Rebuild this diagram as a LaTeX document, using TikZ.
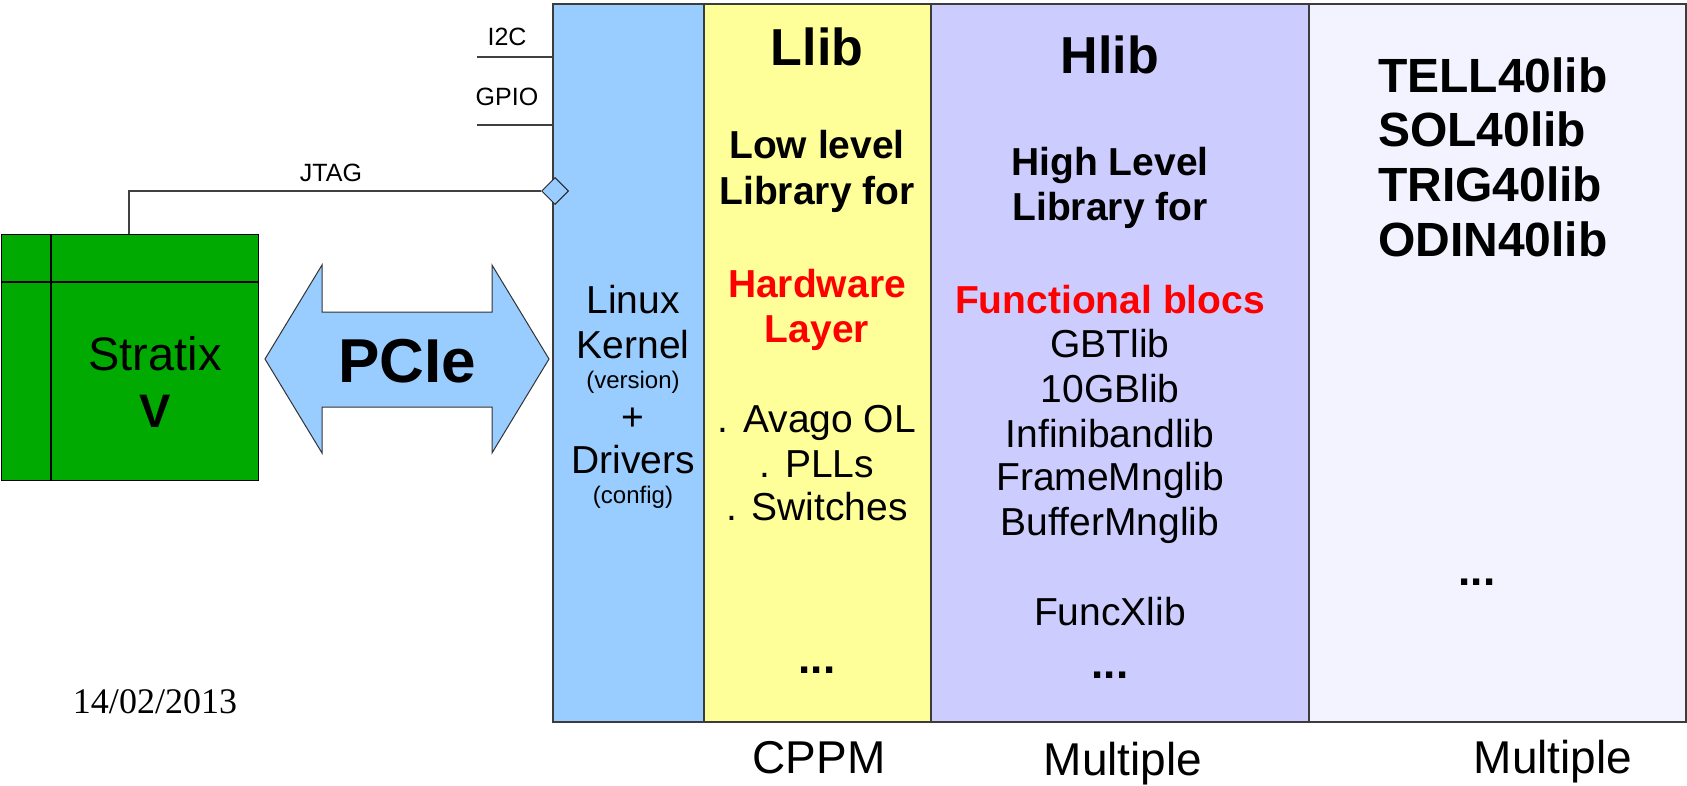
\documentclass[tikz,border=0pt]{standalone}
\usepackage{fontspec}
\setmainfont{Liberation Sans}
\newfontfamily\datefont{Liberation Serif}
\usetikzlibrary{shapes.geometric}
\definecolor{cblue}{HTML}{99CCFF}
\definecolor{cyellow}{HTML}{FFFF99}
\definecolor{cpurple}{HTML}{CCCCFF}
\definecolor{clight}{HTML}{F3F3FF}
\definecolor{cgreen}{HTML}{00AA00}
\definecolor{cborder}{HTML}{3C3C3C}
\definecolor{cred}{HTML}{FF0000}
\newcommand\myfs[1]{\fontsize{#1}{#1}\selectfont}
\begin{document}
\begin{tikzpicture}[x=1pt,y=-1pt,
  col/.style={draw=cborder, line width=1.3pt, inner sep=0pt, outer sep=0pt, anchor=north west, minimum height=718pt},
  txt/.style={inner sep=0pt, outer sep=0pt, anchor=base},
  sig/.style={draw=black!75, line width=1.2pt},
  lt/.style={txt, font=\myfs{39}},
  bt/.style={txt, font=\myfs{39}\bfseries},
  dt/.style={txt, font=\myfs{44}\bfseries},
]
\useasboundingbox (0,0) rectangle (1687,785);

% columns
\node[col, fill=cblue, minimum width=151pt] (blue) at (553,4) {};
\node[col, fill=cyellow, minimum width=227pt] (yellow) at (704,4) {};
\node[col, fill=cpurple, minimum width=378pt] (purple) at (931,4) {};
\node[col, fill=clight, minimum width=377pt] (light) at (1309,4) {};

% Stratix box
\node[draw=black, line width=1.2pt, fill=cgreen, anchor=north west, minimum width=257pt, minimum height=246pt, inner sep=0pt] (stratix) at (1,234) {};
\draw[line width=1.2pt] ([xshift=50pt]stratix.north west) -- ([xshift=50pt]stratix.south west);
\draw[line width=1.2pt] ([yshift=-48pt]stratix.north west) -- ([yshift=-48pt]stratix.north east);
\node[txt] (strT) at (155,370) {\myfs{47}Stratix};
\node[txt] (strV) at (155,427) {\myfs{47}\bfseries V};

% PCIe arrow
\draw[fill=cblue, draw=black!80, line width=1pt] (265,359) -- (322,265) -- (322,312) -- (492,312) -- (492,265) -- (549,359) -- (492,453) -- (492,407) -- (322,407) -- (322,453) -- cycle;
\node[txt] (pcie) at (407,382) {\myfs{62}\bfseries PCIe};

% signal lines
\coordinate (i2cL) at (477,57);
\coordinate (gpioL) at (477,125);
\draw[sig] (i2cL) -- (i2cL -| blue.west);
\draw[sig] (gpioL) -- (gpioL -| blue.west);
\node[txt] (i2c) at (507,45) {\myfs{25}I2C};
\node[txt] (gpio) at (507,105) {\myfs{25}GPIO};
\node[txt] (jtag) at (331,181) {\myfs{25}JTAG};
\node[diamond, draw=black!85, fill=cblue, minimum width=27pt, minimum height=27pt, inner sep=0pt, line width=1pt] (jtagD) at (555,191) {};
\draw[sig] ([xshift=128pt]stratix.north west) |- (jtagD.west);

% blue column text
\node[lt] (linux) at (633,313) {Linux};
\node[lt] (kernel) at (633,358) {Kernel};
\node[txt] (version) at (633,388) {\myfs{24}(version)};
\node[lt] (plus) at (633,430) {+};
\node[lt] (drivers) at (633,473) {Drivers};
\node[txt] (config) at (633,503) {\myfs{24}(config)};

% yellow column text
\node[txt] (llib) at (817,65) {\myfs{52}\bfseries Llib};
\node[bt] (low) at (817,158) {Low level};
\node[bt] (libfor1) at (817,204) {Library for};
\node[bt, text=cred] (hw) at (817,297) {Hardware};
\node[bt, text=cred] (layer) at (817,342) {Layer};
\node[lt] (avago) at (817,432) {. Avago OL};
\node[lt] (plls) at (817,477) {. PLLs};
\node[lt] (switches) at (817,520) {. Switches};
\node[dt] (ydots) at (817,673) {...};

% purple column text
\node[txt] (hlib) at (1110,73) {\myfs{52}\bfseries Hlib};
\node[bt] (high) at (1110,175) {High Level};
\node[bt] (libfor2) at (1110,220) {Library for};
\node[txt, text=cred] (func) at (1110,313) {\myfs{39}\bfseries Functional blocs};
\node[lt] (gbt) at (1110,357) {GBTlib};
\node[lt] (tengb) at (1110,402) {10GBlib};
\node[lt] (infini) at (1110,447) {Infinibandlib};
\node[lt] (frame) at (1110,490) {FrameMnglib};
\node[lt] (buffer) at (1110,535) {BufferMnglib};
\node[lt] (funcx) at (1110,625) {FuncXlib};
\node[dt] (pdots) at (1110,678) {...};

% light column text
\node[txt, anchor=base west] (tell) at (1378,92) {\myfs{48}\bfseries TELL40lib};
\node[txt, anchor=base west] (sol) at (1378,146) {\myfs{48}\bfseries SOL40lib};
\node[txt, anchor=base west] (trig) at (1378,201) {\myfs{48}\bfseries TRIG40lib};
\node[txt, anchor=base west] (odin) at (1378,256) {\myfs{48}\bfseries ODIN40lib};
\node[dt] (ldots) at (1477,585) {...};

% bottom labels
\node[txt] (cppm) at (819,773) {\myfs{46}CPPM};
\node[txt] (mult1) at (1123,775) {\myfs{46}Multiple};
\node[txt] (mult2) at (1553,773) {\myfs{46}Multiple};

% date
\node[txt] (date) at (155,713) {\datefont\myfs{36}14/02/2013};
\end{tikzpicture}
\end{document}
